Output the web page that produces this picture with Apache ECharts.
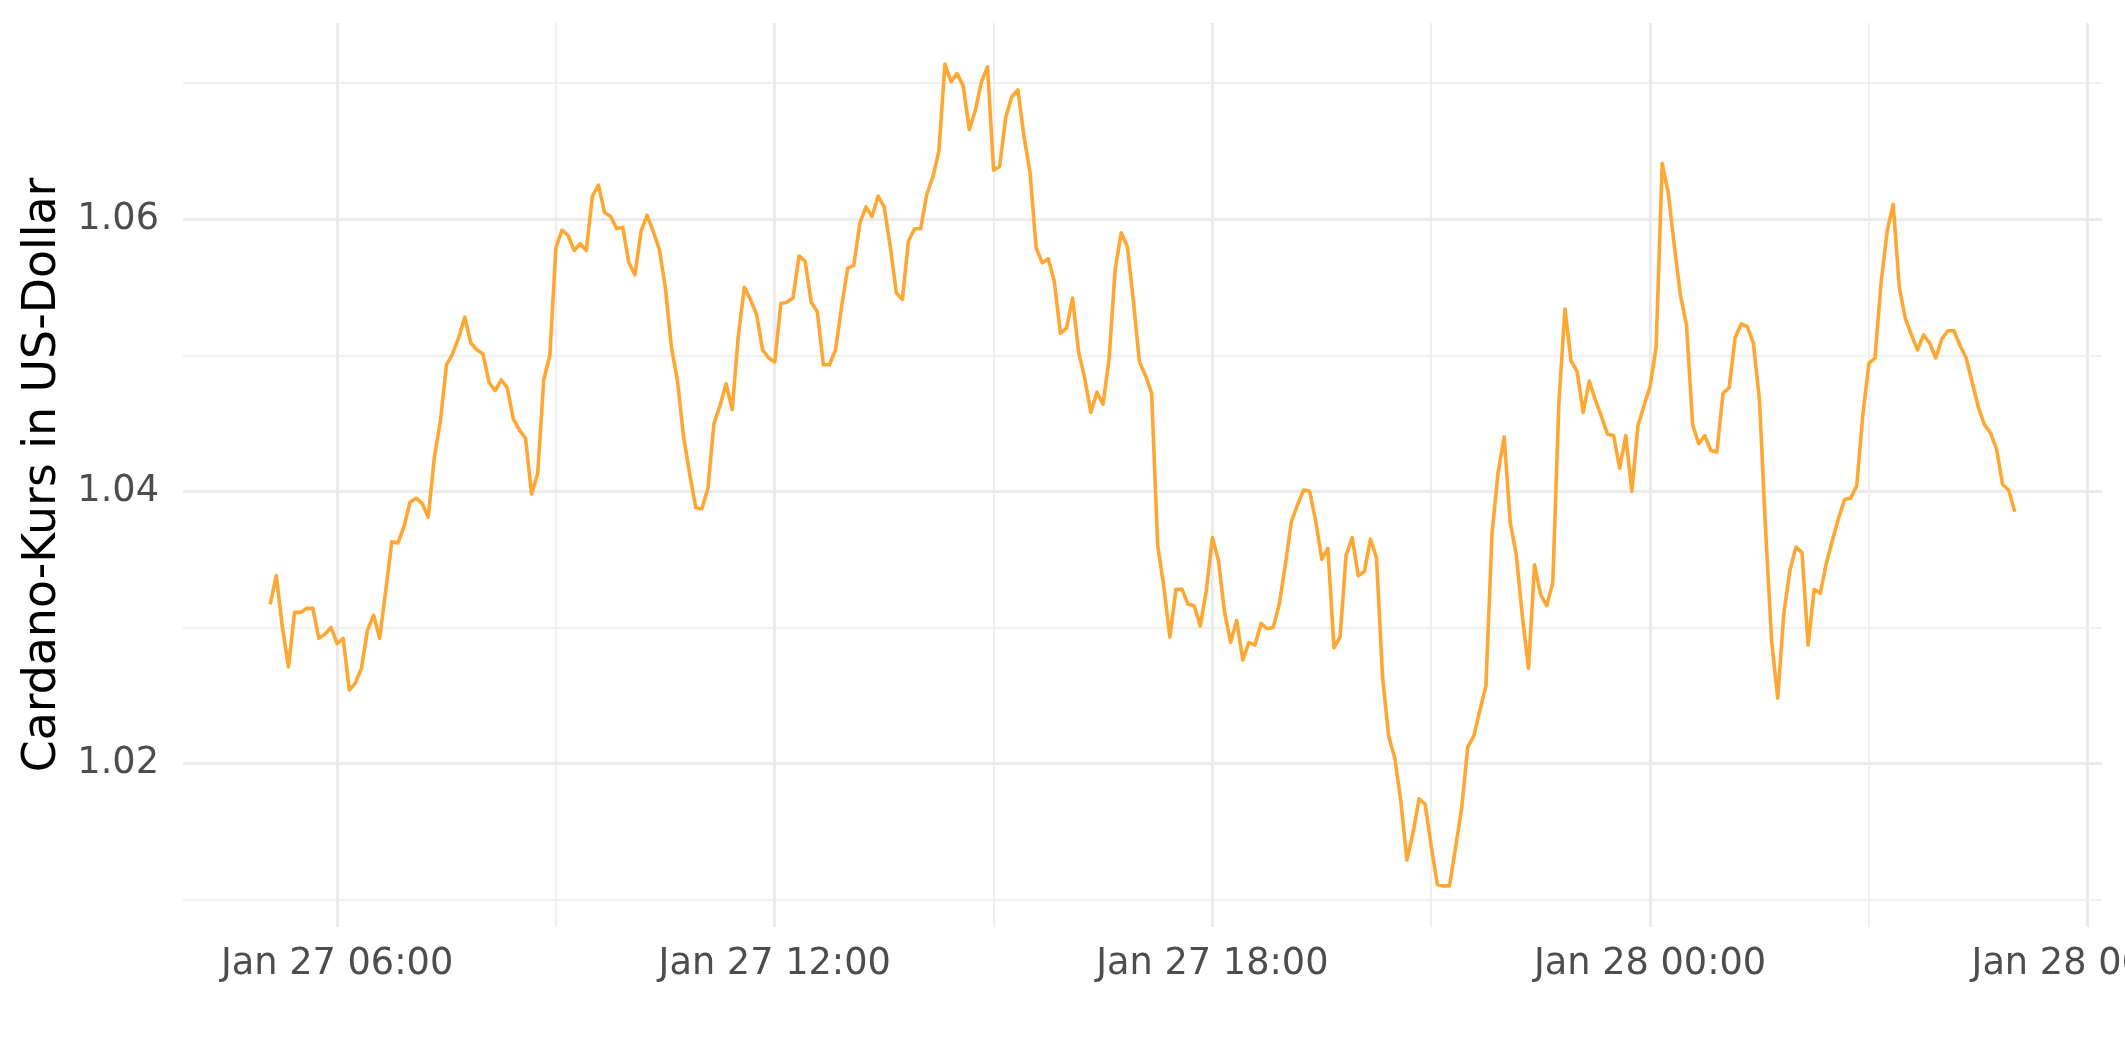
<!DOCTYPE html>
<html>
<head>
<meta charset="utf-8">
<script src="https://cdn.jsdelivr.net/npm/echarts@6/dist/echarts.min.js"></script>
<style>
  html, body { margin: 0; padding: 0; background: #ffffff; overflow: hidden; }
  #chart { width: 2125px; height: 1062px; }
</style>
</head>
<body>
<div id="chart"></div>
<script>
// ---- data (5-minute Cardano prices, Jan 27 05:05 -> Jan 28 05:00) ----
const startTime = Date.UTC(2022, 0, 27, 5, 5);
const stepMinutes = 5;
const prices = [
  1.0317, 1.0338, 1.0300, 1.0271, 1.0311, 1.0311, 1.0314, 1.0314, 1.0292, 1.0295,
  1.0300, 1.0288, 1.0292, 1.0254, 1.0259, 1.0270, 1.0298, 1.0309, 1.0292, 1.0327,
  1.0363, 1.0362, 1.0374, 1.0392, 1.0395, 1.0391, 1.0381, 1.0425, 1.0452, 1.0493,
  1.0501, 1.0513, 1.0528, 1.0509, 1.0504, 1.0501, 1.0480, 1.0474, 1.0482, 1.0476,
  1.0453, 1.0445, 1.0439, 1.0398, 1.0413, 1.0482, 1.0500, 1.0579, 1.0592, 1.0588,
  1.0577, 1.0582, 1.0577, 1.0617, 1.0625, 1.0605, 1.0602, 1.0593, 1.0594, 1.0568,
  1.0559, 1.0591, 1.0603, 1.0591, 1.0578, 1.0550, 1.0506, 1.0481, 1.0440, 1.0413,
  1.0388, 1.0387, 1.0402, 1.0450, 1.0463, 1.0479, 1.0460, 1.0514, 1.0550, 1.0541,
  1.0530, 1.0504, 1.0498, 1.0495, 1.0538, 1.0539, 1.0542, 1.0573, 1.0569, 1.0539,
  1.0532, 1.0493, 1.0493, 1.0504, 1.0536, 1.0564, 1.0566, 1.0597, 1.0609, 1.0602,
  1.0617, 1.0609, 1.0580, 1.0546, 1.0541, 1.0584, 1.0593, 1.0593, 1.0618, 1.0631,
  1.0650, 1.0714, 1.0701, 1.0707, 1.0698, 1.0666, 1.0680, 1.0701, 1.0712, 1.0636,
  1.0639, 1.0675, 1.0690, 1.0695, 1.0661, 1.0634, 1.0579, 1.0568, 1.0571, 1.0554,
  1.0516, 1.0520, 1.0542, 1.0502, 1.0483, 1.0458, 1.0473, 1.0464, 1.0497, 1.0563,
  1.0590, 1.0580, 1.0540, 1.0495, 1.0485, 1.0472, 1.0360, 1.0330, 1.0293, 1.0328,
  1.0328, 1.0317, 1.0316, 1.0301, 1.0327, 1.0366, 1.0349, 1.0311, 1.0289, 1.0305,
  1.0276, 1.0289, 1.0287, 1.0303, 1.0299, 1.0300, 1.0317, 1.0346, 1.0378, 1.0390,
  1.0401, 1.0400, 1.0378, 1.0350, 1.0358, 1.0285, 1.0293, 1.0353, 1.0366, 1.0338,
  1.0341, 1.0365, 1.0351, 1.0263, 1.0220, 1.0204, 1.0172, 1.0129, 1.0149, 1.0174,
  1.0170, 1.0139, 1.0111, 1.0110, 1.0110, 1.0138, 1.0167, 1.0212, 1.0220, 1.0239,
  1.0257, 1.0369, 1.0414, 1.0440, 1.0377, 1.0353, 1.0308, 1.0270, 1.0346, 1.0324,
  1.0316, 1.0333, 1.0465, 1.0534, 1.0496, 1.0488, 1.0458, 1.0481, 1.0467, 1.0455,
  1.0442, 1.0441, 1.0417, 1.0441, 1.0400, 1.0448, 1.0463, 1.0477, 1.0506, 1.0641,
  1.0619, 1.0580, 1.0544, 1.0522, 1.0449, 1.0435, 1.0441, 1.0430, 1.0429, 1.0472,
  1.0476, 1.0513, 1.0523, 1.0521, 1.0509, 1.0467, 1.0372, 1.0290, 1.0248, 1.0310,
  1.0342, 1.0359, 1.0355, 1.0287, 1.0328, 1.0325, 1.0347, 1.0364, 1.0380, 1.0394,
  1.0395, 1.0404, 1.0456, 1.0494, 1.0498, 1.0553, 1.0591, 1.0611, 1.0550, 1.0527,
  1.0515, 1.0504, 1.0515, 1.0509, 1.0498, 1.0512, 1.0518, 1.0518, 1.0507, 1.0498,
  1.0480, 1.0462, 1.0449, 1.0443, 1.0431, 1.0405, 1.0401, 1.0385
];

// ---- axes ----
const xMin = Date.UTC(2022, 0, 27, 3, 53, 15);
const xMax = Date.UTC(2022, 0, 28, 6, 11, 45);
const xMajorTicks = [
  Date.UTC(2022, 0, 27, 6), Date.UTC(2022, 0, 27, 12), Date.UTC(2022, 0, 27, 18),
  Date.UTC(2022, 0, 28, 0), Date.UTC(2022, 0, 28, 6)
];
const xMinorTicks = [
  Date.UTC(2022, 0, 27, 9), Date.UTC(2022, 0, 27, 15), Date.UTC(2022, 0, 27, 21),
  Date.UTC(2022, 0, 28, 3)
];
const yMin = 1.00798;
const yMax = 1.07442;
const yMajorTicks = [1.02, 1.04, 1.06];
const yMinorTicks = [1.01, 1.03, 1.05, 1.07];
const yTitle = 'Cardano-Kurs in US-Dollar';
const monthNames = ['Jan','Feb','Mar','Apr','May','Jun','Jul','Aug','Sep','Oct','Nov','Dec'];

function pad(n) { return (n < 10 ? '0' : '') + n; }
function fmtTime(v) {
  const d = new Date(v);
  return monthNames[d.getUTCMonth()] + ' ' + d.getUTCDate() + ' ' +
         pad(d.getUTCHours()) + ':' + pad(d.getUTCMinutes());
}

const seriesData = prices.map((p, i) => [startTime + i * stepMinutes * 60000, p]);

const FONT = 'DejaVu Sans';
const GRID_COLOR = '#EBEBEB';

const chart = echarts.init(document.getElementById('chart'), null, { renderer: 'canvas' });
chart.setOption({
  animation: false,
  backgroundColor: '#ffffff',
  grid: { left: 183, right: 23, top: 23, bottom: 135, containLabel: false, outerBoundsMode: 'none' },
  xAxis: [
    {
      type: 'value', min: xMin, max: xMax,
      axisLine: { show: false },
      axisTick: { show: false, customValues: xMajorTicks },
      axisLabel: {
        customValues: xMajorTicks, formatter: fmtTime, margin: 19,
        color: '#4D4D4D', fontSize: 36.7, fontFamily: FONT,
        showMinLabel: true, showMaxLabel: true, hideOverlap: false
      },
      splitLine: { show: true, lineStyle: { color: GRID_COLOR, width: 3 } }
    },
    {
      type: 'value', min: xMin, max: xMax, position: 'bottom',
      axisLine: { show: false },
      axisTick: { show: false, customValues: xMinorTicks },
      axisLabel: { show: false, customValues: xMinorTicks },
      splitLine: { show: true, lineStyle: { color: GRID_COLOR, width: 1.6 } }
    }
  ],
  yAxis: [
    {
      type: 'value', min: yMin, max: yMax,
      name: yTitle, nameLocation: 'middle', nameGap: 113, nameRotate: 90,
      nameTextStyle: { color: '#000000', fontSize: 45.8, fontFamily: FONT },
      axisLine: { show: false },
      axisTick: { show: false, customValues: yMajorTicks },
      axisLabel: {
        customValues: yMajorTicks, formatter: v => v.toFixed(2), margin: 24,
        color: '#4D4D4D', fontSize: 36.7, fontFamily: FONT
      },
      splitLine: { show: true, lineStyle: { color: GRID_COLOR, width: 3 } }
    },
    {
      type: 'value', min: yMin, max: yMax, position: 'left',
      axisLine: { show: false },
      axisTick: { show: false, customValues: yMinorTicks },
      axisLabel: { show: false, customValues: yMinorTicks },
      splitLine: { show: true, lineStyle: { color: GRID_COLOR, width: 1.6 } }
    }
  ],
  series: [
    {
      type: 'line',
      xAxisIndex: 0, yAxisIndex: 0,
      data: seriesData,
      showSymbol: false, symbol: 'none',
      lineStyle: { color: '#FFA733', width: 3.6, join: 'round', cap: 'butt' },
      z: 5
    }
  ]
});
</script>
</body>
</html>
